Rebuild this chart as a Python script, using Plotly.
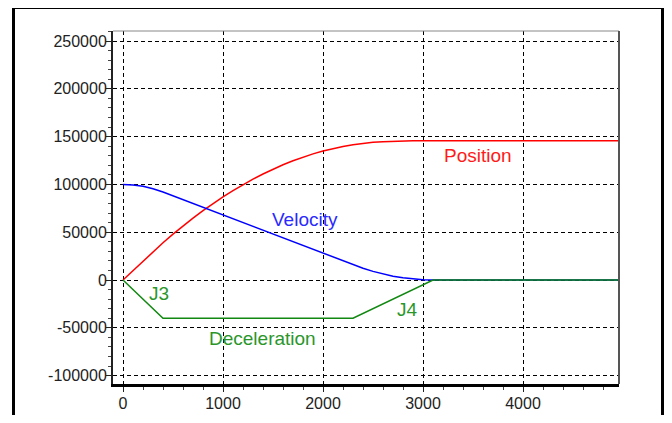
import plotly.graph_objects as go

# time in ms
time_ms = [0, 100, 200, 300, 400, 500, 600, 700, 800, 900, 1000, 1100, 1200, 1300,
           1400, 1500, 1600, 1700, 1800, 1900, 2000, 2100, 2200, 2300, 2400, 2500,
           2600, 2700, 2800, 2900, 3000, 3100, 4950]

position = [0, 9983, 19867, 29550, 38933, 47933, 56533, 64733, 72533, 79933, 86933,
            93533, 99733, 105533, 110933, 115933, 120533, 124733, 128533, 131933,
            134933, 137533, 139733, 141533, 142941, 144000, 144758, 145266, 145575,
            145733, 145791, 145800, 145800]

velocity = [100000, 99500, 98000, 95500, 92000, 88000, 84000, 80000, 76000, 72000,
            68000, 64000, 60000, 56000, 52000, 48000, 44000, 40000, 36000, 32000,
            28000, 24000, 20000, 16000, 12250, 9000, 6250, 4000, 2250, 1000, 250, 0, 0]

decel_time = [0, 400, 2300, 3100, 4950]
deceleration = [0, -40000, -40000, 0, 0]

x_ticks = [0, 1000, 2000, 3000, 4000]
y_ticks = [-100000, -50000, 0, 50000, 100000, 150000, 200000, 250000]
y_tick_text = ["-100000", "-50000", "0", "50000", "100000", "150000", "200000", "250000"]

labels = [
    ("Position", 3550, 130750, "#ff1a1a"),
    ("Velocity", 1815, 63800, "#2a2aff"),
    ("J3", 360, -13600, "#2a962a"),
    ("J4", 2845, -31000, "#2a962a"),
    ("Deceleration", 1393, -61000, "#2a962a"),
]

RED = "#ff0000"
BLUE = "#0000ff"
GREEN = "#118811"

# page body has an 8px margin: figure origin sits at (8, 8) in the window
OFF = 8
W, H = 672 - 2 * OFF, 423 - 2 * OFF
PLOT_L, PLOT_R, PLOT_T, PLOT_B = 113, 619, 31, 384  # window coordinates
ML = PLOT_L - OFF
MT = PLOT_T - OFF
MR = W - (PLOT_R - OFF)
MB = H - (PLOT_B - OFF)
PW = PLOT_R - PLOT_L
PH = PLOT_B - PLOT_T


def px_x(x):  # window x -> paper x
    return (x - PLOT_L) / PW


def px_y(y):  # window y -> paper y
    return 1 - (y - PLOT_T) / PH


fig = go.Figure()
fig.add_trace(go.Scatter(x=time_ms, y=position, mode="lines",
                         line=dict(color=RED, width=1.5), hoverinfo="skip"))
fig.add_trace(go.Scatter(x=time_ms, y=velocity, mode="lines",
                         line=dict(color=BLUE, width=1.5), hoverinfo="skip"))
fig.add_trace(go.Scatter(x=decel_time, y=deceleration, mode="lines",
                         line=dict(color=GREEN, width=1.5), hoverinfo="skip"))

for text, x, y, c in labels:
    fig.add_annotation(x=x, y=y, text=text, showarrow=False,
                       font=dict(family="Liberation Sans, Arial", size=19, color=c),
                       xanchor="center", yanchor="middle")

# outer frame (black border of the image)
fx0, fx1, fy0 = px_x(13.5), px_x(OFF + W - 1.5), px_y(7.5)
fig.add_shape(type="line", xref="paper", yref="paper", x0=fx0, x1=fx0, y0=px_y(440), y1=fy0,
              line=dict(color="black", width=3), layer="above")
fig.add_shape(type="line", xref="paper", yref="paper", x0=fx0, x1=fx1, y0=fy0, y1=fy0,
              line=dict(color="black", width=3), layer="above")
fig.add_shape(type="line", xref="paper", yref="paper", x0=fx1, x1=fx1, y0=px_y(440), y1=fy0,
              line=dict(color="black", width=3), layer="above")
# top / right plot frame
fig.add_shape(type="line", xref="paper", yref="paper", x0=0, x1=1, y0=1, y1=1,
              line=dict(color="#888888", width=1), layer="above")
fig.add_shape(type="line", xref="paper", yref="paper", x0=1, x1=1, y0=0, y1=1,
              line=dict(color="#555555", width=2), layer="above")

fig.update_layout(
    width=W, height=H,
    margin=dict(l=ML, r=MR, t=MT, b=MB, pad=0, autoexpand=False),
    paper_bgcolor="white", plot_bgcolor="white",
    showlegend=False,
    font=dict(family="Liberation Sans, Arial", size=16, color="#222222"),
    xaxis=dict(
        range=[-100, 4960], tickvals=x_ticks, ticks="outside", ticklen=5,
        tickcolor="#222222", showline=True, linecolor="black", linewidth=3,
        showgrid=True, gridcolor="black", gridwidth=1, griddash="4px,3px",
        zeroline=False, tickfont=dict(size=16, color="#222222"), automargin=False,
        ticklabelstandoff=-2,
        minor=dict(dtick=200, ticks="outside", ticklen=3, tickcolor="#444444", showgrid=False),
    ),
    yaxis=dict(
        range=[-108800, 260500], tickvals=y_ticks, ticktext=y_tick_text,
        ticks="outside", ticklen=5, tickcolor="#222222",
        showline=True, linecolor="#222222", linewidth=2,
        showgrid=True, gridcolor="black", gridwidth=1, griddash="4px,3px",
        zeroline=False, tickfont=dict(size=16, color="#222222"), automargin=False,
        ticklabelstandoff=-4,
        minor=dict(dtick=10000, ticks="outside", ticklen=3, tickcolor="#444444", showgrid=False),
    ),
)

fig.write_html("out.html")
